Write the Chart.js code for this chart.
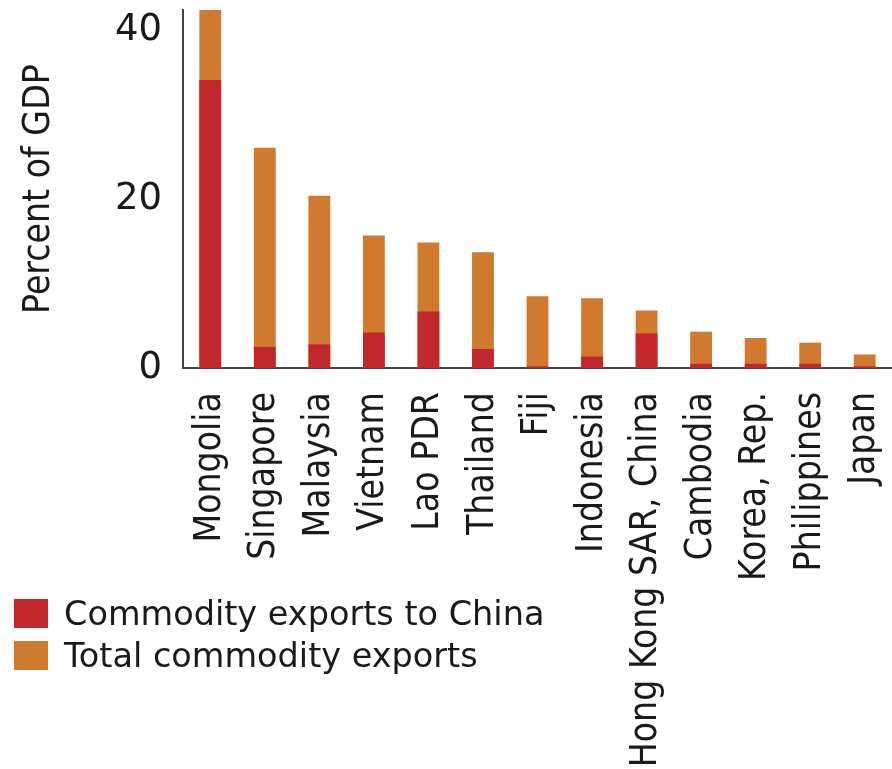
<!DOCTYPE html>
<html>
<head>
<meta charset="utf-8">
<script src="https://cdn.jsdelivr.net/npm/chart.js@4.4.0/dist/chart.umd.min.js"></script>
<style>
  body { margin: 0; background: #fff; }
  #wrap { position: relative; width: 892px; height: 769px; }
  #legend { position: absolute; left: 14px; top: 592px; font-family: 'DejaVu Sans', sans-serif; font-size: 33.5px; color: #1a1a1a; }
  #legend div { display: flex; align-items: center; height: 42px; }
  #legend span.sw { display: inline-block; width: 34px; height: 29px; margin-right: 16px; }
</style>
</head>
<body>
<div id="wrap">
  <canvas id="chart" width="892" height="769"></canvas>
  <div id="legend"></div>
</div>
<script>
const countries = ["Mongolia", "Singapore", "Malaysia", "Vietnam", "Lao PDR", "Thailand", "Fiji",
  "Indonesia", "Hong Kong SAR, China", "Cambodia", "Korea, Rep.", "Philippines", "Japan"];
const toChina = [34.1, 2.5, 2.8, 4.2, 6.7, 2.25, 0.2, 1.35, 4.1, 0.5, 0.5, 0.5, 0.2];
const totalExports = [42.4, 26.1, 20.4, 15.7, 14.85, 13.7, 8.5, 8.25, 6.8, 4.3, 3.55, 3.0, 1.6];
const yTicks = [0, 20, 40];
const seriesNames = ["Commodity exports to China", "Total commodity exports"];
const colors = ["#c1272d", "#cf7a2e"];

const narrow = "'DejaVu Sans Condensed', 'DejaVu Sans', sans-serif";

const ctx = document.getElementById('chart').getContext('2d');
const chart = new Chart(ctx, {
  type: 'bar',
  data: {
    labels: countries,
    datasets: [
      { label: seriesNames[0], data: toChina, backgroundColor: colors[0] },
      { label: seriesNames[1], data: totalExports, backgroundColor: colors[1] }
    ]
  },
  options: {
    responsive: false,
    animation: false,
    barPercentage: 0.4,
    categoryPercentage: 1,
    layout: { padding: { top: 10, left: 0, right: 0, bottom: 0 } },
    plugins: {
      legend: { display: false },
      tooltip: { enabled: false }
    },
    scales: {
      x: {
        stacked: true,
        grid: { display: false },
        border: { color: '#444', width: 2 },
        afterFit: axis => {
          axis.height = 401;
          axis.paddingLeft = 0;
          axis.paddingRight = 0;
        },
        ticks: {
          autoSkip: false,
          minRotation: 90,
          maxRotation: 90,
          color: '#1a1a1a',
          padding: 16,
          font: { family: narrow, size: 37 }
        }
      },
      y: {
        stacked: false,
        min: 0,
        max: 42.4,
        grid: { display: false },
        border: { color: '#444', width: 2 },
        afterBuildTicks: axis => { axis.ticks = yTicks.map(v => ({ value: v })); },
        afterFit: axis => {
          axis.width = 183;
          axis.paddingTop = 0;
          axis.paddingBottom = 0;
        },
        ticks: {
          color: '#1a1a1a',
          padding: 13,
          font: { family: "'DejaVu Sans', sans-serif", size: 37 }
        },
        title: {
          display: true,
          text: 'Percent of GDP',
          color: '#1a1a1a',
          padding: { top: 17, bottom: 0 },
          font: { family: narrow, size: 37 }
        }
      }
    }
  }
});

const legendEl = document.getElementById('legend');
seriesNames.forEach((name, i) => {
  const row = document.createElement('div');
  row.innerHTML = '<span class="sw" style="background:' + colors[i] + '"></span>' + name;
  legendEl.appendChild(row);
});
</script>
</body>
</html>
